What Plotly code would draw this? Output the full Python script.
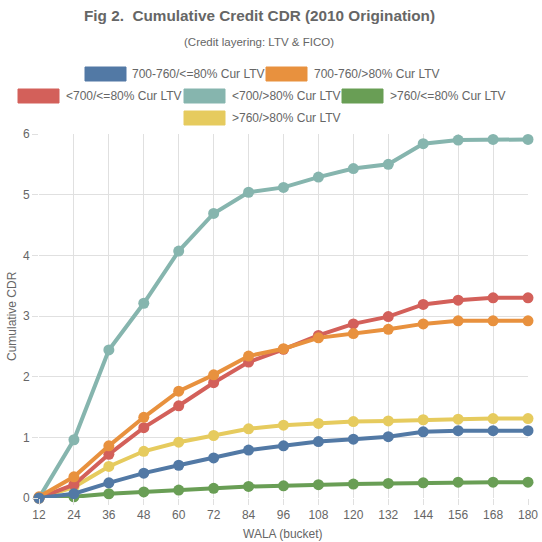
import plotly.graph_objects as go

wala = [12, 24, 36, 48, 60, 72, 84, 96, 108, 120, 132, 144, 156, 168, 180]

s_700_760_le80 = [0.00, 0.07, 0.25, 0.41, 0.54, 0.66, 0.79, 0.86, 0.93, 0.97, 1.01, 1.09, 1.11, 1.11, 1.11]
s_700_760_gt80 = [0.02, 0.35, 0.86, 1.33, 1.76, 2.03, 2.34, 2.46, 2.64, 2.71, 2.78, 2.87, 2.92, 2.92, 2.92]
s_lt700_le80 = [0.00, 0.22, 0.72, 1.16, 1.52, 1.90, 2.24, 2.45, 2.68, 2.87, 2.99, 3.19, 3.26, 3.30, 3.30]
s_lt700_gt80 = [0.00, 0.96, 2.44, 3.21, 4.07, 4.69, 5.04, 5.12, 5.29, 5.43, 5.50, 5.84, 5.90, 5.91, 5.91]
s_gt760_le80 = [0.00, 0.02, 0.07, 0.10, 0.13, 0.16, 0.19, 0.20, 0.22, 0.23, 0.24, 0.25, 0.26, 0.26, 0.26]
s_gt760_gt80 = [0.00, 0.18, 0.52, 0.77, 0.92, 1.03, 1.14, 1.20, 1.23, 1.26, 1.27, 1.29, 1.30, 1.31, 1.31]

names = ["700-760/<=80% Cur LTV", "700-760/>80% Cur LTV", "<700/<=80% Cur LTV",
         "<700/>80% Cur LTV", ">760/<=80% Cur LTV", ">760/>80% Cur LTV"]
series = [s_700_760_le80, s_700_760_gt80, s_lt700_le80, s_lt700_gt80, s_gt760_le80, s_gt760_gt80]
colors = ["#5279a5", "#e8913e", "#d3605a", "#86b5ae", "#699e55", "#e6cb5e"]

y_ticks = [0, 1, 2, 3, 4, 5, 6]

W, H = 542, 542
L, R, T, B = 39, 14, 134, 44
PW, PH = W - L - R, H - T - B


def px_x(px):
    return (px - L) / PW


def px_y(py):
    return (H - B - py) / PH


fig = go.Figure()
for name, vals, col in reversed(list(zip(names, series, colors))):
    fig.add_trace(go.Scatter(
        x=wala, y=vals, name=name, mode="lines+markers",
        line=dict(color=col, width=4),
        marker=dict(color=col, size=11),
        showlegend=False, cliponaxis=False,
    ))

# custom legend (Chart.js style boxes)
legend_items = [
    (0, 85, 67, 130), (1, 266, 67, 312),
    (2, 18, 89, 64), (3, 184, 89, 230), (4, 342, 89, 388),
    (5, 184, 111, 230),
]
shapes = []
annotations = []
for idx, bx, by, tx in legend_items:
    shapes.append(dict(type="rect", xref="paper", yref="paper",
                       x0=px_x(bx), x1=px_x(bx + 41), y0=px_y(by), y1=px_y(by + 14),
                       fillcolor=colors[idx], line=dict(color=colors[idx], width=1)))
    annotations.append(dict(text=names[idx], xref="paper", yref="paper",
                            x=px_x(tx), y=px_y(by + 7), xanchor="left", yanchor="middle",
                            showarrow=False, font=dict(size=12, color="#666")))

annotations.append(dict(text="<b>Fig 2.  Cumulative Credit CDR (2010 Origination)</b>",
                        xref="paper", yref="paper", x=px_x(259), y=px_y(15),
                        xanchor="center", yanchor="middle", showarrow=False,
                        font=dict(size=15.3, color="#666")))
annotations.append(dict(text="(Credit layering: LTV & FICO)",
                        xref="paper", yref="paper", x=px_x(259), y=px_y(42),
                        xanchor="center", yanchor="middle", showarrow=False,
                        font=dict(size=11.5, color="#666")))
annotations.append(dict(text="Cumulative CDR", xref="paper", yref="paper",
                        x=px_x(12), y=px_y(316), xanchor="center", yanchor="middle",
                        textangle=-90, showarrow=False, font=dict(size=12, color="#666")))
annotations.append(dict(text="WALA (bucket)", xref="paper", yref="paper",
                        x=px_x(283), y=px_y(534), xanchor="center", yanchor="middle",
                        showarrow=False, font=dict(size=12, color="#666")))

fig.update_layout(
    width=W, height=H,
    margin=dict(l=L, r=R, t=T, b=B, pad=0, autoexpand=False),
    paper_bgcolor="white", plot_bgcolor="white",
    font=dict(family="Liberation Sans, Arial, sans-serif", size=12, color="#666"),
    shapes=shapes, annotations=annotations,
    showlegend=False,
    hovermode=False,
    xaxis=dict(range=[12, 180], tickvals=wala, ticktext=[str(v) for v in wala],
               showgrid=True, gridcolor="#e0e0e0", gridwidth=1,
               zeroline=False, showline=False, automargin=False,
               ticks="outside", ticklen=6, tickcolor="#e0e0e0",
               tickfont=dict(size=12, color="#666")),
    yaxis=dict(range=[0, 6], tickvals=y_ticks, ticktext=[str(v) for v in y_ticks],
               showgrid=True, gridcolor="#e0e0e0", gridwidth=1,
               zeroline=False, showline=False, automargin=False,
               ticks="outside", ticklen=6, tickcolor="#e0e0e0",
               tickfont=dict(size=12, color="#666")),
)

fig.write_html(
    "out.html",
    config={"displayModeBar": False, "staticPlot": True},
    post_script="document.body.style.margin='0';document.body.style.overflow='hidden';",
)
